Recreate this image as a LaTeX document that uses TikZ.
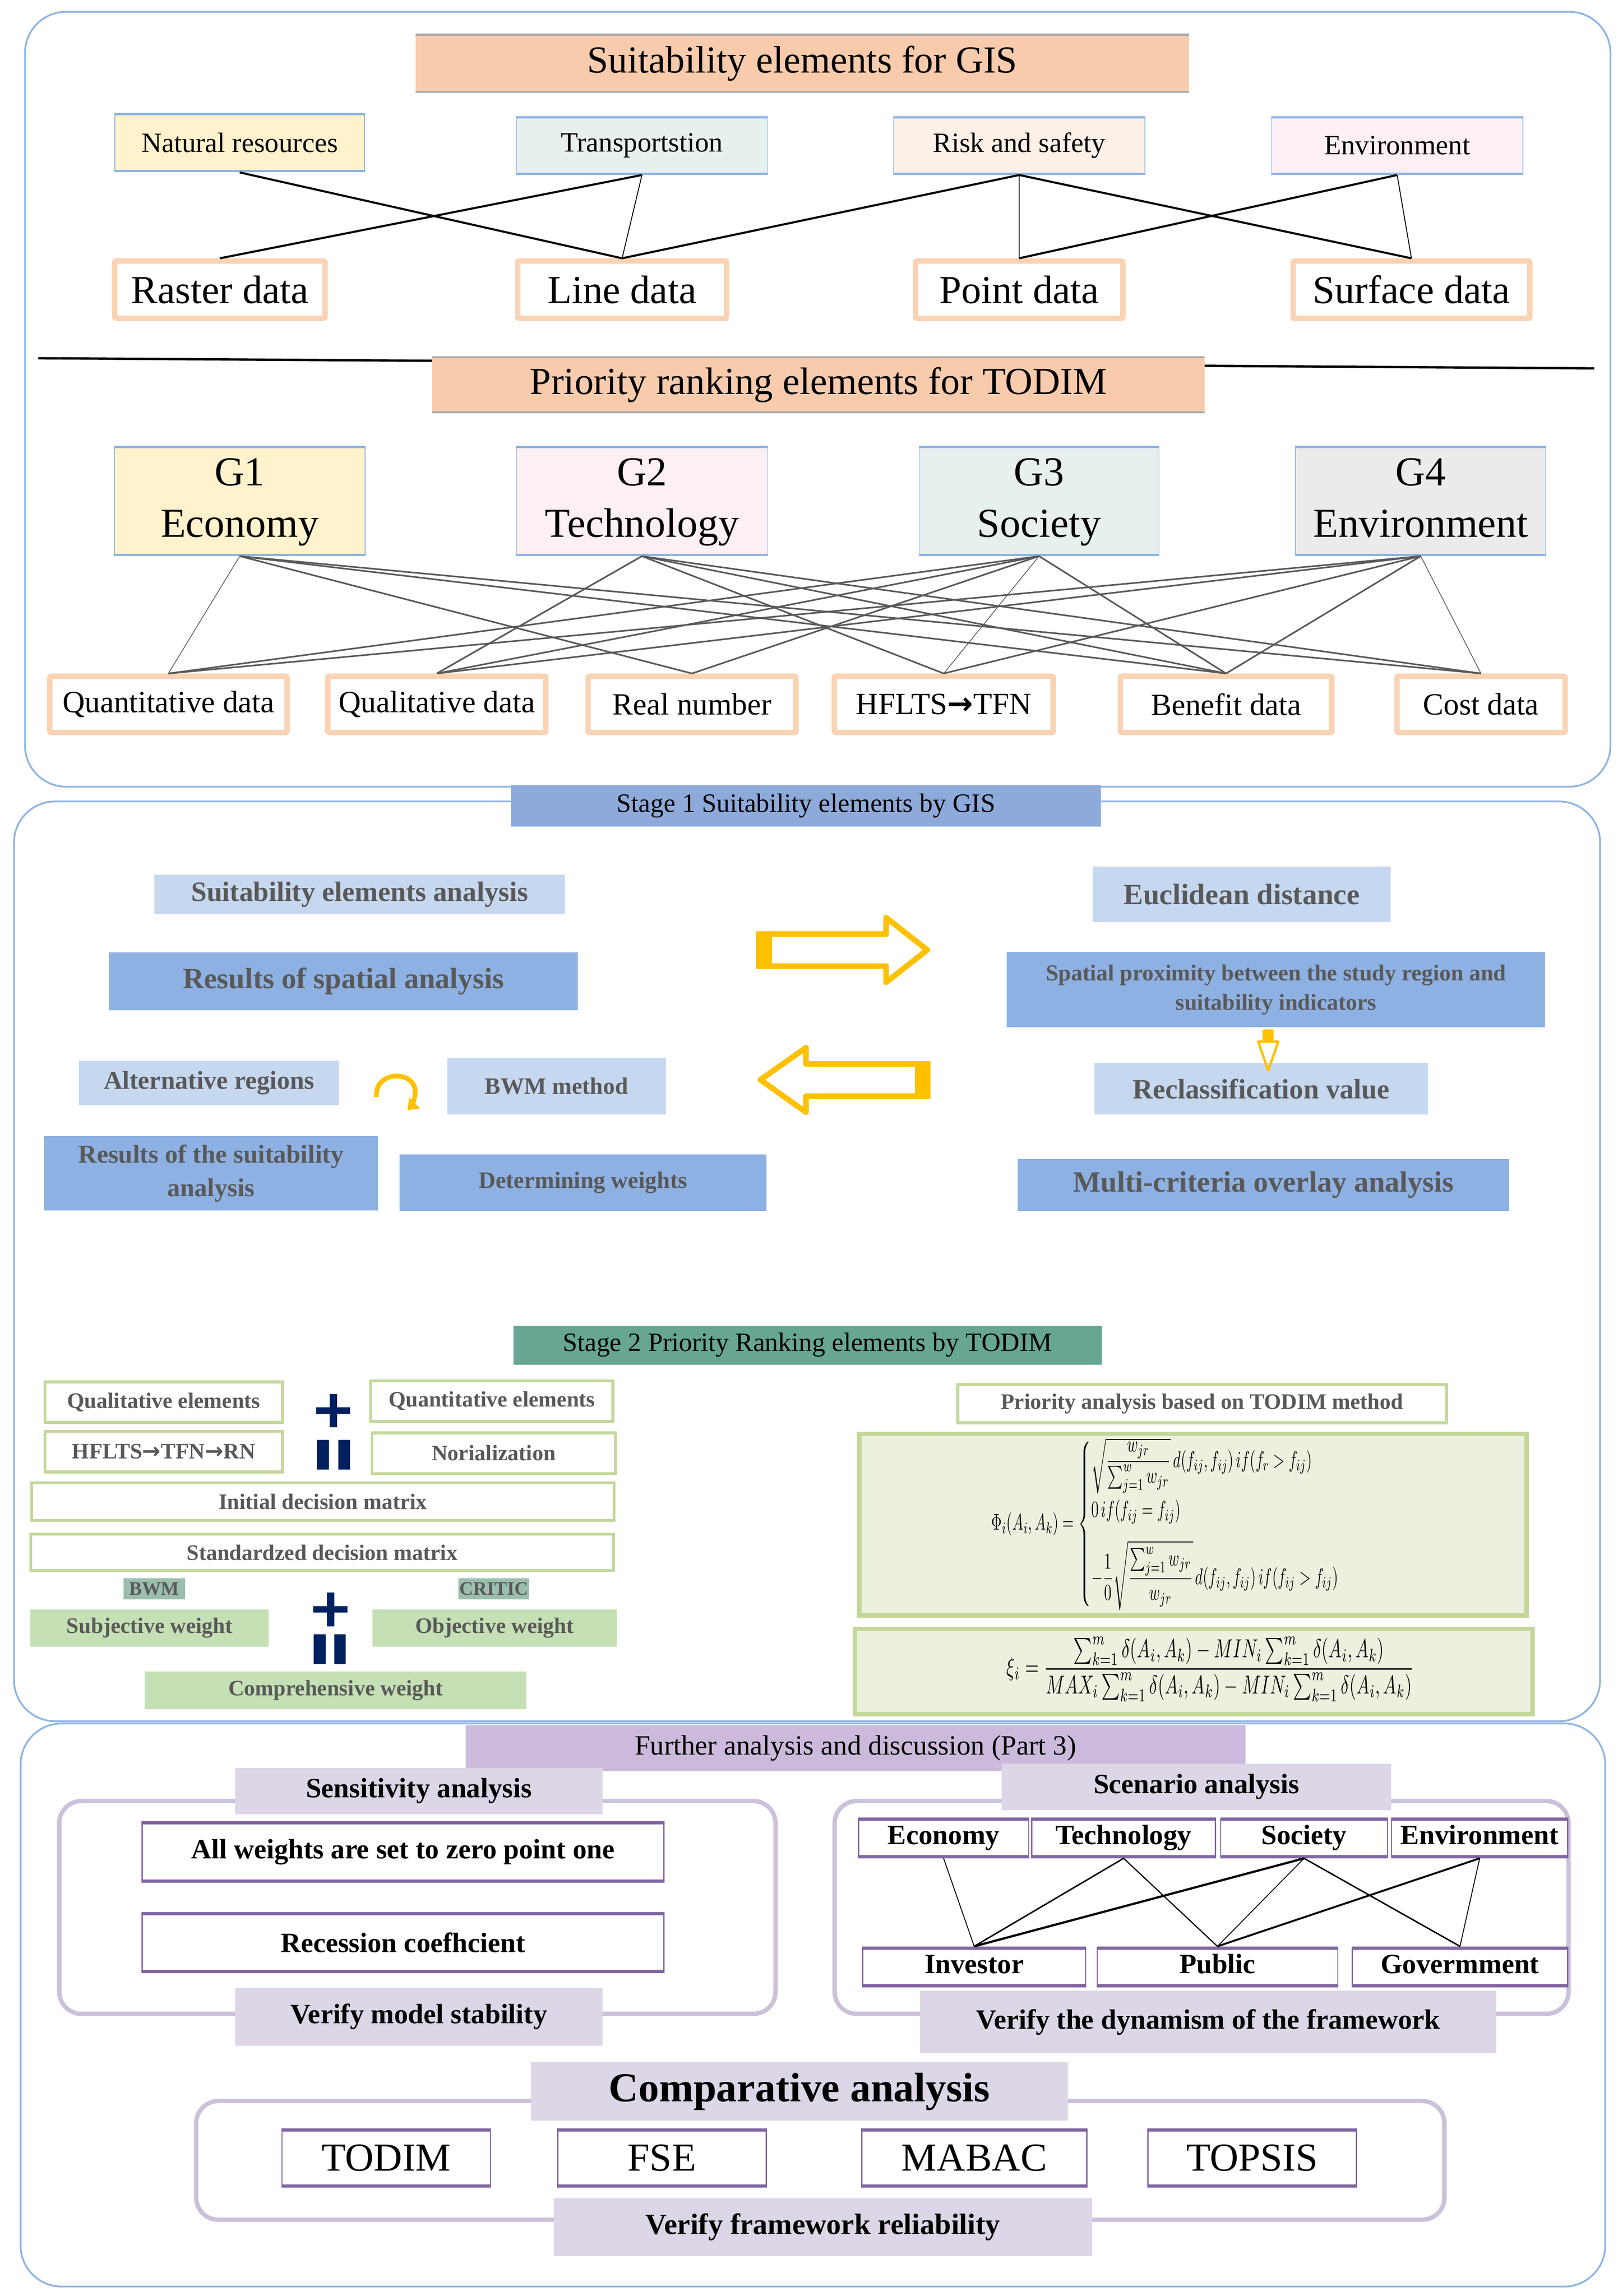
\documentclass[tikz,border=0pt]{standalone}
\usepackage{amsmath}
\usepackage{graphicx}
\usepackage{fontspec}
\setmainfont{Liberation Serif}
\newfontfamily\arrowfont{DejaVu Sans}
\usetikzlibrary{arrows.meta}

% colours
\definecolor{secblue}{HTML}{8EB4E3}
\definecolor{titlepeach}{HTML}{F8CBAD}
\definecolor{bandgray}{HTML}{A6A6A6}
\definecolor{catyellow}{HTML}{FFF2CC}
\definecolor{catteal}{HTML}{E7F0EF}
\definecolor{catpeach}{HTML}{FDF1E7}
\definecolor{catpink}{HTML}{FDF0F5}
\definecolor{catgray}{HTML}{EBEBEB}
\definecolor{datapeach}{HTML}{F9D3B4}
\definecolor{linkgray}{HTML}{595959}
\definecolor{stageblue}{HTML}{8EAADB}
\definecolor{lightblue}{HTML}{C6D8EF}
\definecolor{midblue}{HTML}{8EB1E3}
\definecolor{textgray}{HTML}{595959}
\definecolor{arrowyellow}{HTML}{FFC000}
\definecolor{stagegreen}{HTML}{67A693}
\definecolor{greenline}{HTML}{C4D79B}
\definecolor{formfill}{HTML}{EBF1DE}
\definecolor{greenfill}{HTML}{C5E0B4}
\definecolor{tagfill}{HTML}{9BBFAE}
\definecolor{navy}{HTML}{002060}
\definecolor{lavmid}{HTML}{CCBADC}
\definecolor{lavlight}{HTML}{DCD6E6}
\definecolor{lavline}{HTML}{CCC1DA}
\definecolor{purpline}{HTML}{8064A2}

\tikzset{
  box/.style={rectangle, inner sep=0pt, align=center},
  bands/.style 2 args={path picture={
      \draw[#1, line width=#2] (path picture bounding box.north west) -- (path picture bounding box.north east)
        (path picture bounding box.south west) -- (path picture bounding box.south east);}},
  outer/.style={draw=secblue, line width=1.2pt, rounded corners=28pt},
  titlebox/.style={box, fill=titlepeach, bands={bandgray}{2.6pt}, font=\fontsize{26}{30}\selectfont},
  catbox/.style={box, draw=secblue, line width=0.5pt, bands={secblue}{2.8pt}, font=\fontsize{19}{22}\selectfont},
  gbox/.style={catbox, font=\fontsize{28}{35}\selectfont},
  databox/.style={box, draw=datapeach, line width=3.7pt, fill=white, rounded corners=1pt, font=\fontsize{27}{30}\selectfont},
  smalldata/.style={databox, font=\fontsize{21}{24}\selectfont},
  gislink/.style={line width=1.4pt},
  gisthin/.style={line width=0.6pt},
  todimlink/.style={draw=linkgray, line width=1.1pt},
  todimthin/.style={draw=linkgray, line width=0.5pt},
  stagelabel/.style={box, font=\fontsize{18}{21}\selectfont},
  lightcell/.style={box, fill=lightblue, text=textgray, font=\fontsize{19}{22}\selectfont\bfseries},
  darkcell/.style={box, fill=midblue, text=textgray, font=\fontsize{20}{23}\selectfont\bfseries},
  flowarrow/.style={draw=arrowyellow, line width=3.8pt, line join=round},
  greenframe/.style={box, draw=greenline, line width=2pt, fill=white, text=textgray, font=\fontsize{15}{18}\selectfont\bfseries},
  greencell/.style={box, fill=greenfill, text=textgray, font=\fontsize{15}{18}\selectfont\bfseries},
  tag/.style={box, fill=tagfill, text=textgray, font=\fontsize{13}{15}\selectfont\bfseries},
  formbox/.style={box, draw=greenline, line width=3pt, fill=formfill},
  subframe/.style={draw=lavline, line width=3pt, rounded corners=15pt},
  lavlabel/.style={box, fill=lavlight, font=\fontsize{19}{22}\selectfont\bfseries},
  purplebox/.style={box, draw=purpline, line width=0.8pt, fill=white, bands={purpline}{3.6pt}, font=\fontsize{19}{22}\selectfont\bfseries},
  methodbox/.style={purplebox, font=\fontsize{27}{30}\selectfont},
  scenlink/.style={line width=1pt}
}

\begin{document}
\begin{tikzpicture}[x=1pt, y=-1pt]
\useasboundingbox (0,0) rectangle (1100,1561.4);

% ---------- Part 1: elements ----------
\draw[outer] (17,8) rectangle (1095,535);
\node[titlebox, minimum width=526pt, minimum height=40pt] (gistitle) at (545.5,43) {Suitability elements for GIS};

\node[catbox, fill=catyellow, minimum width=170pt, minimum height=40pt] (natural) at (163,97) {Natural resources};
\node[catbox, fill=catteal, minimum width=171pt, minimum height=39.5pt] (transport) at (436.5,99) {Transportstion};
\node[catbox, fill=catpeach, minimum width=171pt, minimum height=39.5pt] (risk) at (693,99) {Risk and safety};
\node[catbox, fill=catpink, minimum width=171pt, minimum height=39.5pt] (environ) at (950,99) {Environment};

\node[databox, minimum width=143pt, minimum height=39pt] (raster) at (149.5,197) {Raster data};
\node[databox, minimum width=142pt, minimum height=39pt] (linedata) at (423,197) {Line data};
\node[databox, minimum width=141pt, minimum height=39pt] (pointdata) at (693,197) {Point data};
\node[databox, minimum width=161pt, minimum height=39pt] (surface) at (959.7,197) {Surface data};

\draw[gislink] (natural.south) -- (linedata.north);
\draw[gislink] (transport.south) -- (raster.north);
\draw[gisthin] (transport.south) -- (linedata.north);
\draw[gislink] (risk.south) -- (linedata.north);
\draw[gisthin] (risk.south) -- (pointdata.north);
\draw[gislink] (risk.south) -- (surface.north);
\draw[gislink] (environ.south) -- (pointdata.north);
\draw[gisthin] (environ.south) -- (surface.north);

% separating rule behind the second title
\coordinate (ruleW) at (26,243.6);
\coordinate (ruleE) at (1084,250.5);
\draw[line width=1.6pt] (ruleW) -- (ruleE);
\node[titlebox, minimum width=525pt, minimum height=38.6pt] (todimtitle) at (556.5,261.7) {Priority ranking elements for TODIM};

\node[gbox, fill=catyellow, minimum width=170.5pt, minimum height=74.5pt] (g1) at (163,340.7) {G1\strut\\Economy\strut};
\node[gbox, fill=catpink, minimum width=171pt, minimum height=74.5pt] (g2) at (436.5,340.7) {G2\strut\\Technology\strut};
\node[gbox, fill=catteal, minimum width=163pt, minimum height=74.5pt] (g3) at (706.5,340.7) {G3\strut\\Society\strut};
\node[gbox, fill=catgray, minimum width=170pt, minimum height=74.5pt] (g4) at (966,340.7) {G4\strut\\Environment\strut};

\node[smalldata, minimum width=161.3pt, minimum height=38.3pt] (quant) at (114.5,479) {Quantitative data};
\node[smalldata, minimum width=148.3pt, minimum height=38.3pt] (qual) at (297,479) {Qualitative data};
\node[smalldata, minimum width=141.3pt, minimum height=38.3pt] (realnum) at (470.5,479) {Real number};
\node[smalldata, minimum width=148.8pt, minimum height=38.3pt] (hflts) at (641.7,479) {HFLTS{\arrowfont\bfseries →}TFN};
\node[smalldata, minimum width=143.8pt, minimum height=38.3pt] (benefit) at (833.7,479) {Benefit data};
\node[smalldata, minimum width=114.3pt, minimum height=38.3pt] (cost) at (1007,479) {Cost data};

\foreach \g/\d in {g1/realnum, g1/benefit, g1/cost, g2/qual, g2/hflts, g2/benefit, g2/cost,
                   g3/quant, g3/qual, g3/realnum, g3/benefit, g4/quant, g4/qual, g4/hflts, g4/benefit}
  \draw[todimlink] (\g.south) -- (\d.north);
\foreach \g/\d in {g1/quant, g3/hflts, g4/cost}
  \draw[todimthin] (\g.south) -- (\d.north);

% ---------- Part 2: stage 1 and stage 2 ----------
\draw[outer] (9.5,545) rectangle (1088,1170.5);
\node[stagelabel, fill=stageblue, minimum width=401pt, minimum height=28pt] (stage1) at (548,548) {Stage 1 Suitability elements by GIS};

\node[lightcell, minimum width=279pt, minimum height=26.6pt] (sea) at (244.5,608.3) {Suitability elements analysis};
\node[darkcell, minimum width=319pt, minimum height=39.5pt] (spatial) at (233.5,667.3) {Results of spatial analysis};
\node[lightcell, minimum width=202.6pt, minimum height=37.6pt, font=\fontsize{20}{23}\selectfont\bfseries] (euclid) at (844.3,608.2) {Euclidean distance};
\node[darkcell, minimum width=366pt, minimum height=51.2pt, font=\fontsize{15.5}{20}\selectfont\bfseries] (proximity) at (867.6,673.1) {Spatial proximity between the study region and\\suitability indicators};
\node[lightcell, minimum width=227pt, minimum height=35.2pt] (reclass) at (857.5,740.4) {Reclassification value};
\node[darkcell, minimum width=334pt, minimum height=35.3pt] (overlay) at (859,805.7) {Multi-criteria overlay analysis};
\node[lightcell, minimum width=177pt, minimum height=30.2pt, font=\fontsize{17.5}{20}\selectfont\bfseries] (altreg) at (142.1,736.5) {Alternative regions};
\node[lightcell, minimum width=148.7pt, minimum height=38.6pt, font=\fontsize{16}{19}\selectfont\bfseries] (bwmmeth) at (378.4,738.7) {BWM method};
\node[darkcell, minimum width=227pt, minimum height=50.6pt, font=\fontsize{17.5}{23}\selectfont\bfseries] (suitres) at (143.5,798) {Results of the suitability\\analysis};
\node[darkcell, minimum width=249.5pt, minimum height=38.3pt, font=\fontsize{16}{19}\selectfont\bfseries] (detw) at (396.3,804.2) {Determining weights};

% yellow flow arrows
\draw[flowarrow] (516,635.2) -- (602.5,635.2) -- (602.5,624) -- (630.5,646) -- (602.5,668) -- (602.5,657) -- (516,657) -- cycle;
\fill[arrowyellow] (514,633.3) rectangle (525,659);
\draw[flowarrow] (630.7,723.5) -- (548,723.5) -- (548,712.5) -- (517,734.3) -- (548,756.3) -- (548,745.5) -- (630.7,745.5) -- cycle;
\fill[arrowyellow] (622,721.6) rectangle (632.6,747.4);
\fill[arrowyellow, rounded corners=1pt] (858.5,700) rectangle (866,708);
\draw[arrowyellow, line width=1.6pt, line join=round] (855.5,708.3) -- (869.2,708.3) -- (862.3,728) -- cycle;
\draw[arrowyellow, line width=3.2pt, -{Triangle[length=7pt, width=10pt]}] (256,746) .. controls (254,727) and (286,727) .. (282,746) .. controls (281,750) and (280,752) .. (277,755);

\node[stagelabel, fill=stagegreen, minimum width=400pt, minimum height=26.5pt] (stage2) at (549,914.7) {Stage 2 Priority Ranking elements by TODIM};

\node[greenframe, minimum width=161.4pt, minimum height=27.5pt] (qualel) at (111.3,953.5) {Qualitative elements};
\node[greenframe, minimum width=164.7pt, minimum height=27.7pt] (quantel) at (334.4,952.8) {Quantitative elements};
\node[greenframe, minimum width=161.4pt, minimum height=27.7pt] (hflrn) at (111.3,987.2) {HFLTS{\arrowfont →}TFN{\arrowfont →}RN};
\node[greenframe, minimum width=165.4pt, minimum height=27.6pt] (norial) at (335.7,988.2) {Norialization};
\node[greenframe, minimum width=396pt, minimum height=25.6pt] (initdm) at (219.5,1021.2) {Initial decision matrix};
\node[greenframe, minimum width=396pt, minimum height=24.6pt] (stddm) at (219,1055.7) {Standardzed decision matrix};
\node[tag, minimum width=41.7pt, minimum height=14.5pt] (bwmtag) at (104.9,1080.5) {BWM};
\node[tag, minimum width=48pt, minimum height=14.5pt] (critictag) at (335.8,1080.5) {CRITIC};
\node[greencell, minimum width=162.2pt, minimum height=25.5pt] (subjw) at (101.7,1107.2) {Subjective weight};
\node[greencell, minimum width=166.1pt, minimum height=25.5pt] (objw) at (336.3,1107.2) {Objective weight};
\node[greencell, minimum width=259.5pt, minimum height=25.6pt] (compw) at (228.2,1149.6) {Comprehensive weight};

% plus and equal signs
\fill[navy] (224.2,948) rectangle (229.2,970.6) (215,957) rectangle (238,961.5);
\fill[navy] (215.5,979.2) rectangle (223.7,999.4) (230,979.2) rectangle (238,999.4);
\fill[navy] (222.3,1083) rectangle (227.3,1106) (213,1092.2) rectangle (236.3,1096.6);
\fill[navy] (213.3,1111.4) rectangle (221.5,1131.7) (227.3,1111.4) rectangle (235,1131.7);

\node[greenframe, minimum width=332.2pt, minimum height=26pt] (prio) at (817.4,954.6) {Priority analysis based on TODIM method};
\node[formbox, minimum width=453.7pt, minimum height=123.4pt] (phibox) at (811.2,1036.8) {};
\node (phi) at (797.5,1036.5) {\resizebox*{247pt}{117pt}{$\displaystyle
  \Phi_i(A_i,A_k)=\begin{cases}
    \sqrt{\dfrac{w_{jr}}{\sum_{j=1}^{w} w_{jr}}}\,d(f_{ij},f_{ij})\,if(f_r>f_{ij})\\[6pt]
    0\,if(f_{ij}=f_{ij})\\[6pt]
    -\dfrac{1}{0}\sqrt{\dfrac{\sum_{j=1}^{w} w_{jr}}{w_{jr}}}\,d(f_{ij},f_{ij})\,if(f_{ij}>f_{ij})
  \end{cases}$}};
\node[formbox, minimum width=460.8pt, minimum height=58pt] (xibox) at (811.7,1136.8) {};
\node (xi) at (823,1135) {\resizebox*{277pt}{44pt}{$\displaystyle
  \xi_i=\frac{\sum_{k=1}^{m}\delta(A_i,A_k)-MIN_i\sum_{k=1}^{m}\delta(A_i,A_k)}{MAX_i\sum_{k=1}^{m}\delta(A_i,A_k)-MIN_i\sum_{k=1}^{m}\delta(A_i,A_k)}$}};

% ---------- Part 3: further analysis ----------
\draw[outer] (14,1172) rectangle (1091.5,1555);
\draw[subframe] (40.3,1224.8) rectangle (527.3,1369.5);
\draw[subframe] (567.5,1224.8) rectangle (1066.5,1369.5);
\draw[subframe] (133.4,1428.8) rectangle (982.1,1509.5);

\node[box, fill=lavmid, minimum width=530.2pt, minimum height=31.4pt, font=\fontsize{19}{22}\selectfont] (further) at (581.7,1188.9) {Further analysis and discussion (Part 3)};
\node[lavlabel, minimum width=249.7pt, minimum height=31.6pt] (sens) at (284.8,1218) {Sensitivity analysis};
\node[purplebox, minimum width=354.7pt, minimum height=41pt] (allw) at (274,1259.5) {All weights are set to zero point one};
\node[purplebox, minimum width=354.7pt, minimum height=40.7pt] (recess) at (274,1321.2) {Recession coefhcient};
\node[lavlabel, minimum width=249.7pt, minimum height=39.5pt] (stability) at (284.8,1371.5) {Verify model stability};

\node[lavlabel, minimum width=265pt, minimum height=31.6pt] (scen) at (813.5,1215.1) {Scenario analysis};
\node[purplebox, minimum width=115.7pt, minimum height=27.1pt] (econ) at (641.6,1249.8) {Economy\strut};
\node[purplebox, minimum width=124.8pt, minimum height=27.1pt] (tech) at (764,1249.8) {Technology\strut};
\node[purplebox, minimum width=113.4pt, minimum height=27.1pt] (soc) at (886.7,1249.8) {Society\strut};
\node[purplebox, minimum width=119.8pt, minimum height=27.1pt] (env) at (1006.1,1249.8) {Environment\strut};
\node[purplebox, minimum width=151.6pt, minimum height=27pt] (inv) at (662.4,1337.5) {Investor\strut};
\node[purplebox, minimum width=163.6pt, minimum height=27pt] (pub) at (827.8,1337.5) {Public\strut};
\node[purplebox, minimum width=146.5pt, minimum height=27pt] (gov) at (992.7,1337.5) {Govermment\strut};
\node[lavlabel, minimum width=392pt, minimum height=42.3pt] (dynamism) at (821.5,1375) {Verify the dynamism of the framework};

\draw[scenlink, line width=0.6pt] (econ.south) -- (inv.north);
\draw[scenlink] (tech.south) -- (inv.north);
\draw[scenlink, line width=0.8pt] (tech.south) -- (pub.north);
\draw[scenlink, line width=1.5pt] (soc.south) -- (inv.north);
\draw[scenlink, line width=0.6pt] (soc.south) -- (pub.north);
\draw[scenlink] (soc.south) -- (gov.north);
\draw[scenlink, line width=1.3pt] (env.south) -- (pub.north);
\draw[scenlink, line width=0.6pt] (env.south) -- (gov.north);

\node[lavlabel, minimum width=365pt, minimum height=39.8pt, font=\fontsize{28}{32}\selectfont\bfseries] (comp) at (543.5,1422.3) {Comparative analysis};
\node[methodbox, minimum width=141.7pt, minimum height=39.3pt] (todim) at (262.6,1467.5) {TODIM};
\node[methodbox, minimum width=141.7pt, minimum height=39.3pt] (fse) at (450.1,1467.5) {FSE};
\node[methodbox, minimum width=153pt, minimum height=39.3pt] (mabac) at (662.5,1467.5) {MABAC};
\node[methodbox, minimum width=141.8pt, minimum height=39.3pt] (topsis) at (851.4,1467.5) {TOPSIS};
\node[lavlabel, minimum width=366pt, minimum height=39.5pt, font=\fontsize{20}{23}\selectfont\bfseries] (reliab) at (559.5,1514.5) {Verify framework reliability};
\end{tikzpicture}
\end{document}
